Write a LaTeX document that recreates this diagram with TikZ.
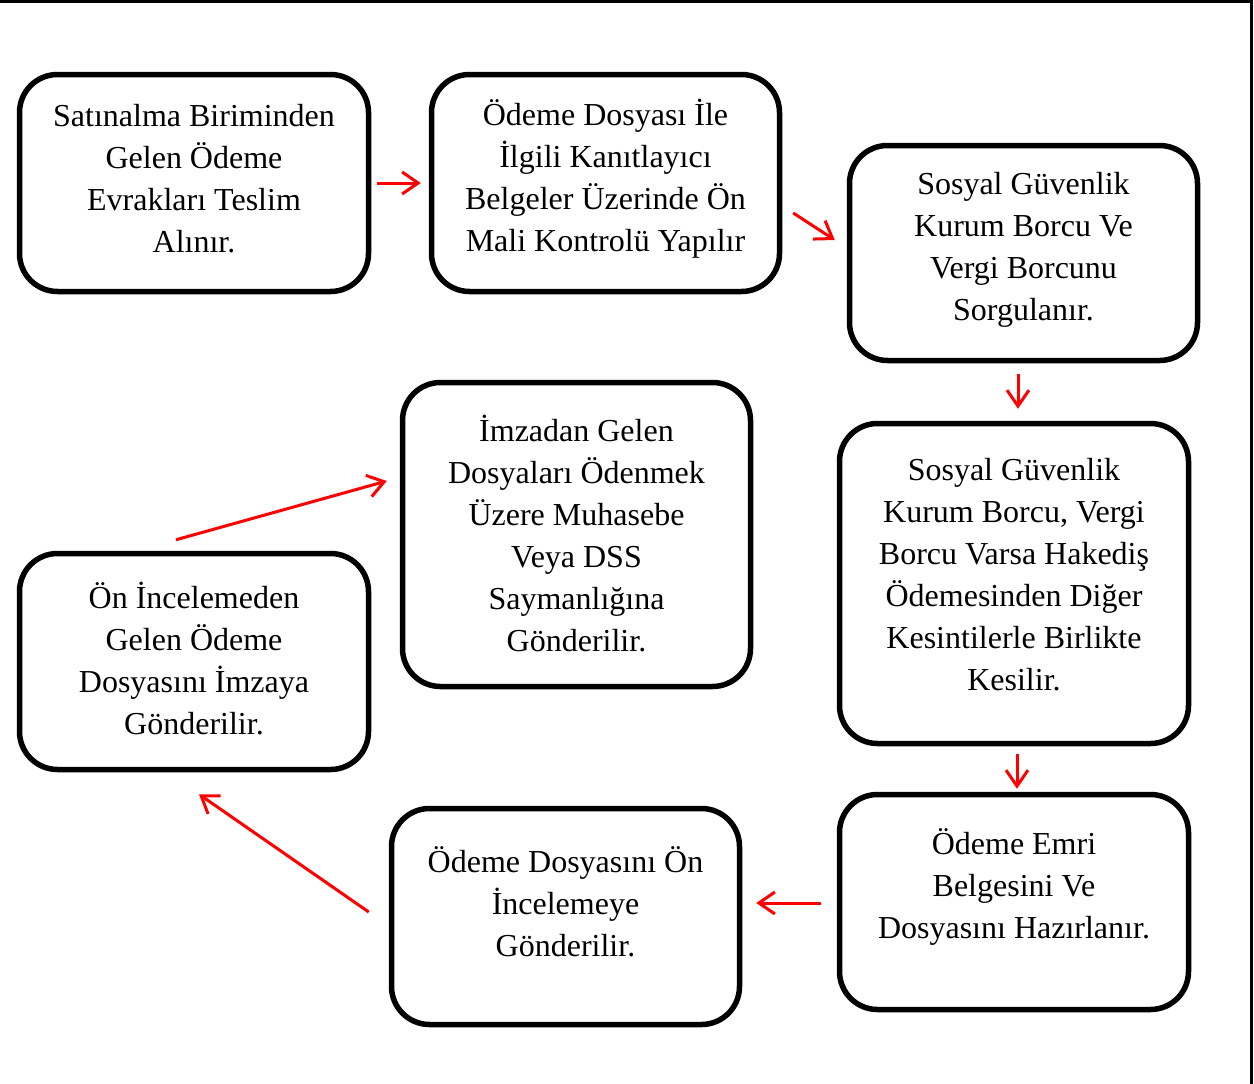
\documentclass[tikz,border=0pt]{standalone}
\usepackage{fontspec}
\setmainfont{Liberation Serif}
\usetikzlibrary{arrows.meta,calc}

\tikzset{
  stepbox/.style={draw=black, line width=5.5pt, rounded corners=38pt,
    minimum width=#1, inner sep=0pt},
  boxtext/.style={align=center, font=\fontsize{32}{42}\selectfont, inner sep=0pt},
  flow/.style={draw=red, line width=3pt,
    -{Straight Barb[length=16pt,width=22pt,line width=3pt]}},
}

\begin{document}
\begin{tikzpicture}[x=1pt,y=-1pt]
\useasboundingbox (0,0) rectangle (1254,1084);

% page frame: top and right edges
\draw[line width=3pt] (0,1.5) -- (1251.5,1.5) -- (1251.5,1084);

% boxes
\node[stepbox=349pt, minimum height=217pt] (b1) at (194,183) {};
\node[stepbox=348pt, minimum height=217pt] (b2) at (605.5,183) {};
\node[stepbox=348pt, minimum height=215pt] (b3) at (1023.5,253) {};
\node[stepbox=349pt, minimum height=320pt] (b4) at (1014,583.5) {};
\node[stepbox=349pt, minimum height=215pt] (b5) at (1014,902) {};
\node[stepbox=348pt, minimum height=216pt] (b6) at (565.5,916.5) {};
\node[stepbox=349pt, minimum height=216pt] (b7) at (194,661.5) {};
\node[stepbox=348pt, minimum height=304pt] (b8) at (576.5,534.5) {};

% box texts
\node[boxtext] (t1) at ($(b1.center)+(0,-4)$) {Satınalma Biriminden\\Gelen Ödeme\\Evrakları Teslim\\Alınır.};
\node[boxtext] (t2) at ($(b2.center)+(0,-4)$) {Ödeme Dosyası İle\\İlgili Kanıtlayıcı\\Belgeler Üzerinde Ön\\Mali Kontrolü Yapılır};
\node[boxtext] (t3) at ($(b3.center)+(0,-3)$) {Sosyal Güvenlik\\Kurum Borcu Ve\\Vergi Borcunu\\Sorgulanır.};
\node[boxtext] (t4) at ($(b4.center)+(0,-9)$) {Sosyal Güvenlik\\Kurum Borcu, Vergi\\Borcu Varsa Hakediş\\Ödemesinden Diğer\\Kesintilerle Birlikte\\Kesilir.};
\node[boxtext] (t5) at ($(b5.center)+(0,-15)$) {Ödeme Emri\\Belgesini Ve\\Dosyasını Hazırlanır.};
\node[boxtext] (t6) at ($(b6.center)+(0,-15)$) {Ödeme Dosyasını Ön\\İncelemeye\\Gönderilir.};
\node[boxtext] (t7) at ($(b7.center)+(0,-3)$) {Ön İncelemeden\\Gelen Ödeme\\Dosyasını İmzaya\\Gönderilir.};
\node[boxtext] (t8) at ($(b8.center)+(0,-1)$) {İmzadan Gelen\\Dosyaları Ödenmek\\Üzere Muhasebe\\Veya DSS\\Saymanlığına\\Gönderilir.};

% flow arrows
\draw[flow] ($(b1.east)+(6,0)$) -- ($(b2.west)+(-8,0)$);
\draw[flow] ($(b2.east)+(11,30)$) -- ($(b3.west)+(-12,-13)$);
\draw[flow] ($(b3.south)+(-5.5,11)$) -- ($(b4.north)+(4,-12)$);
\draw[flow] ($(b4.south)+(3,8)$) -- ($(b5.north)+(3,-3)$);
\draw[flow] ($(b5.west)+(-16,1)$) -- ($(b6.east)+(14,-13.5)$);
\draw[flow] ($(b6.west)+(-20,-4.5)$) -- ($(b7.south)+(5,22)$);
\draw[flow] ($(b7.north)+(-18,-11)$) -- ($(b8.west)+(-13,-53.5)$);
\end{tikzpicture}
\end{document}
